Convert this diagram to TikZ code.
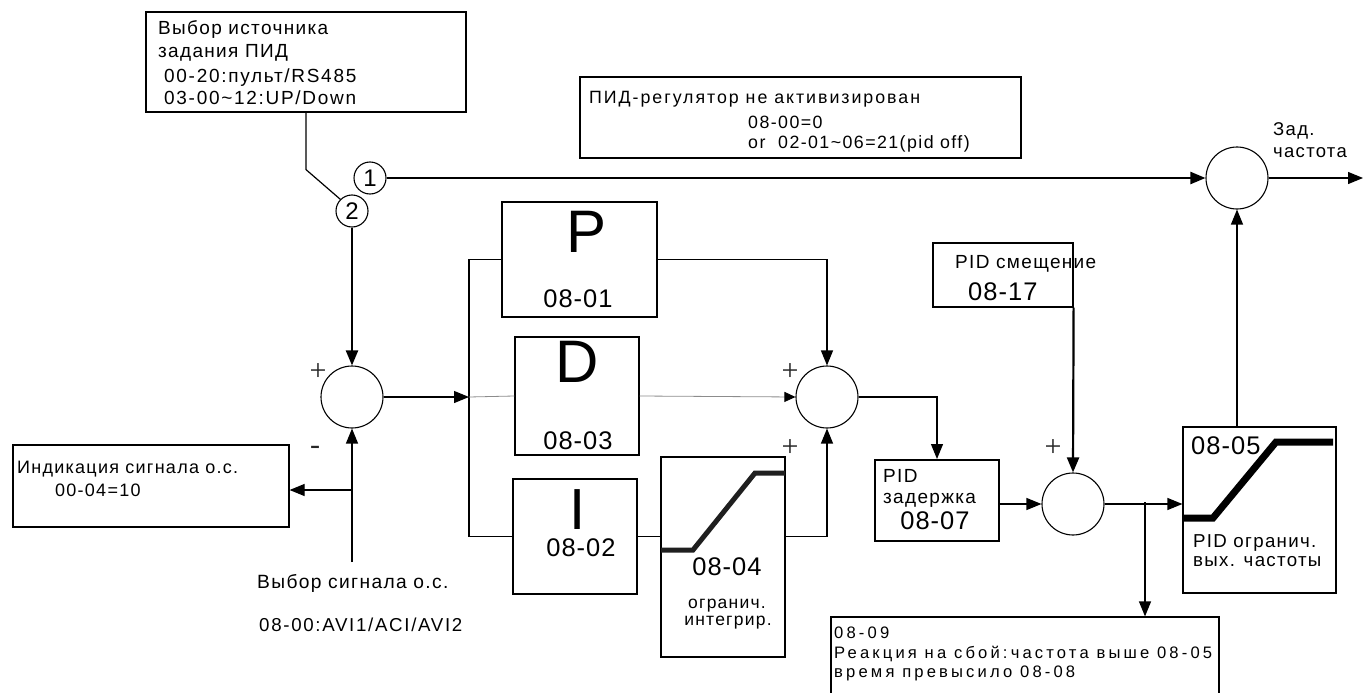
\documentclass[tikz,border=0pt]{standalone}
\usepackage{fontspec}
\setmainfont{Liberation Sans}[LetterSpace=7]
\newfontfamily\serf{Liberation Serif}
\usetikzlibrary{arrows.meta}
\newcommand\fz[2]{\fontsize{#1}{#2}\selectfont}
\begin{document}
\begin{tikzpicture}[x=1pt,y=-1pt,
  ln/.style={line width=1.2pt},
  thk/.style={line width=2.2pt},
  thn/.style={line width=0.8pt, black!45},
  box/.style={draw, line width=1.2pt, fill=white, inner sep=0pt},
  sumc/.style={draw, circle, line width=1.1pt, minimum size=62pt, inner sep=0pt, fill=white},
  numc/.style={draw, circle, line width=1.1pt, minimum size=32pt, inner sep=0pt, fill=white, font=\fz{24}{26}\addfontfeature{LetterSpace=0}},
  arr/.style={-{Triangle[length=15pt,width=12pt]}},
  sarr/.style={-{Triangle[length=11pt,width=10pt,black]}},
  t/.style={inner sep=0pt, anchor=base west},
  tc/.style={inner sep=0pt, anchor=base},
  pl/.style={inner sep=0pt, font=\serf\fz{30}{32}, text=black!85},
  lim/.style={line width=5pt, black!88},
]
\useasboundingbox (0,0) rectangle (1363,693);
\clip (0,0) rectangle (1363,693);

% ---------------- boxes ----------------
\node[box, minimum width=320, minimum height=100] (src) at (306,62) {};
\node[t, font=\fz{19}{22}] (src1) at (158,35) {Выбор источника};
\node[t, font=\fz{19}{22}] (src2) at (158,58) {задания ПИД};
\node[t, font=\fz{19}{22}\addfontfeature{LetterSpace=9}] (src3) at (164,83) {00-20:пульт/RS485};
\node[t, font=\fz{19}{22}\addfontfeature{LetterSpace=9}] (src4) at (164,104) {03-00\textasciitilde12:UP/Down};

\node[box, minimum width=441, minimum height=81] (off) at (800.5,117.5) {};
\node[t, font=\fz{17.8}{21}\addfontfeature{LetterSpace=11}] (off1) at (589,103) {ПИД-регулятор не активизирован};
\node[t, font=\fz{17.8}{21}\addfontfeature{LetterSpace=8}] (off2) at (748,128) {08-00=0};
\node[t, font=\fz{17.8}{21}\addfontfeature{LetterSpace=8}] (off3) at (748,148) {or\ \ 02-01\textasciitilde06=21(pid off)};

\node[box, minimum width=276, minimum height=82] (fbk) at (151,486) {};
\node[t, font=\fz{18}{21}] (fbk1) at (17,473) {Индикация сигнала о.с.};
\node[t, font=\fz{18}{21}] (fbk2) at (55,496) {00-04=10};

\node[t, font=\fz{19.2}{22}] (fsel1) at (257,588) {Выбор сигнала о.с.};
\node[t, font=\fz{18.7}{22}\addfontfeature{LetterSpace=9}] (fsel2) at (259,631) {08-00:AVI1/ACI/AVI2};

\node[box, minimum width=155, minimum height=115] (P) at (579.5,259.5) {};
\node[tc, font=\fz{60}{60}\addfontfeature{LetterSpace=0}] (Pl) at (587,252) {P};
\node[tc, font=\fz{25.5}{28}\addfontfeature{LetterSpace=4}] (Pn) at (578,307) {08-01};

\node[box, minimum width=124, minimum height=118] (D) at (577,396) {};
\node[tc, font=\fz{60}{60}\addfontfeature{LetterSpace=0}] (Dl) at (577,382) {D};
\node[tc, font=\fz{25.5}{28}\addfontfeature{LetterSpace=4}] (Dn) at (578,449) {08-03};

\node[box, minimum width=124, minimum height=115] (I) at (575,536.5) {};
\node[tc, font=\fz{58}{58}\addfontfeature{LetterSpace=0}] (Il) at (578,529) {I};
\node[tc, font=\fz{25.5}{28}\addfontfeature{LetterSpace=4}] (In) at (581,556) {08-02};

\node[box, minimum width=124, minimum height=200] (lim1) at (723,557) {};
\node[tc, font=\fz{25.5}{28}\addfontfeature{LetterSpace=4}] (lim1n) at (727,575) {08-04};
\node[tc, font=\fz{17.5}{20}] (lim1a) at (727,608) {огранич.};
\node[tc, font=\fz{17.5}{20}] (lim1b) at (728,625) {интегрир.};

\node[box, line width=2pt, minimum width=124, minimum height=81] (dly) at (937,500.5) {};
\node[t, font=\fz{19}{22}] (dly1) at (883,482) {PID};
\node[t, font=\fz{19}{22}] (dly2) at (883,503) {задержка};
\node[tc, font=\fz{25.5}{28}\addfontfeature{LetterSpace=4}] (dlyn) at (935,529) {08-07};

\node[box, minimum width=140, minimum height=64] (bias) at (1003,275) {};
\node[t, font=\fz{19}{22}] (bias1) at (955,268) {PID смещение};
\node[t, font=\fz{25.5}{28}\addfontfeature{LetterSpace=4}] (biasn) at (968,300) {08-17};

\node[box, minimum width=153, minimum height=166] (lim2) at (1259.5,510) {};
\node[t, font=\fz{25.5}{28}\addfontfeature{LetterSpace=4}] (lim2n) at (1191,454) {08-05};
\node[t, font=\fz{18.7}{21}] (lim2a) at (1193,547) {PID огранич.};
\node[t, font=\fz{18.7}{21}] (lim2b) at (1193,566) {вых. частоты};

\node[box, minimum width=388, minimum height=100] (flt) at (1025,667) {};
\node[t, font=\fz{16.6}{19}\addfontfeature{LetterSpace=19}] (flt1) at (834,638) {08-09};
\node[t, font=\fz{16.6}{19}\addfontfeature{LetterSpace=19}] (flt2) at (834,658) {Реакция на сбой:частота выше 08-05};
\node[t, font=\fz{16.6}{19}\addfontfeature{LetterSpace=19}] (flt3) at (834,677) {время превысило 08-08};

% ---------------- circles ----------------
\node[numc] (n1) at (370,178) {1};
\node[numc] (n2) at (352,211) {2};
\node[sumc] (zad) at (1237,178) {};
\node[sumc] (s1) at (352,397) {};
\node[sumc] (s2) at (827,397) {};
\node[sumc] (s3) at (1073,504) {};

\node[t, font=\fz{18.5}{21}] (zad1) at (1273,135) {Зад.};
\node[t, font=\fz{18.5}{21}] (zad2) at (1273,157) {частота};

\node[pl] (p1) at (318,372) {+};
\node[pl] (m1) at (315,450) {-};
\node[pl] (p2) at (790,372) {+};
\node[pl] (p3) at (790,448) {+};
\node[pl] (p4) at (1053,448) {+};

% ---------------- free ends ----------------
\coordinate (zout) at (1363,178);
\coordinate (fbin) at (352,562);
\coordinate (tap) at (352,490);
\coordinate (split) at (469,397);
\coordinate (tap2) at (1145,502);

% ---------------- connectors ----------------
\draw[ln] (src.south) -- ++(0,57) -- (n2.135);
\draw[thk, arr] (n1.east) -- (zad.west);
\draw[ln, arr] (zad.east) -- (zout);
\draw[ln, arr] (zad |- lim2.north) -- (zad.south);
\draw[thk, arr] (n2.south) -- (s1.north);
\draw[ln, arr] (fbin) -- (s1.south);
\draw[ln, arr] (tap) -- (tap -| fbk.east);
\draw[ln, arr] (s1.east) -- (split);
\draw[ln] (P.west) -| (split) |- (I.west);
\draw[thn] (split) -- (D.west);
\draw[thn, sarr] (D.east) -- (s2.west);
\draw[ln, arr] (P.east) -| (s2.north);
\draw[ln] (I.east) -- (I.east -| lim1.west);
\draw[ln, arr] (I.east -| lim1.east) -| (s2.south);
\draw[ln, arr] (s2.east) -| (dly.north);
\draw[ln, arr] (dly.east |- s3) -- (s3.west);
\draw[thk, arr] (bias.south east) -- (s3.north);
\draw[ln, arr] (s3.east) -- (s3 -| lim2.west);
\draw[ln, arr] (tap2) -- (tap2 |- flt.north);

% ---------------- limiter curves ----------------
\draw[lim] (661,550) -- (693,550) -- (755,473) -- (785,473);
\draw[lim, line width=7pt, black] (1183,518) -- (1213,518) -- (1276,442) -- (1333,442);
\end{tikzpicture}
\end{document}
